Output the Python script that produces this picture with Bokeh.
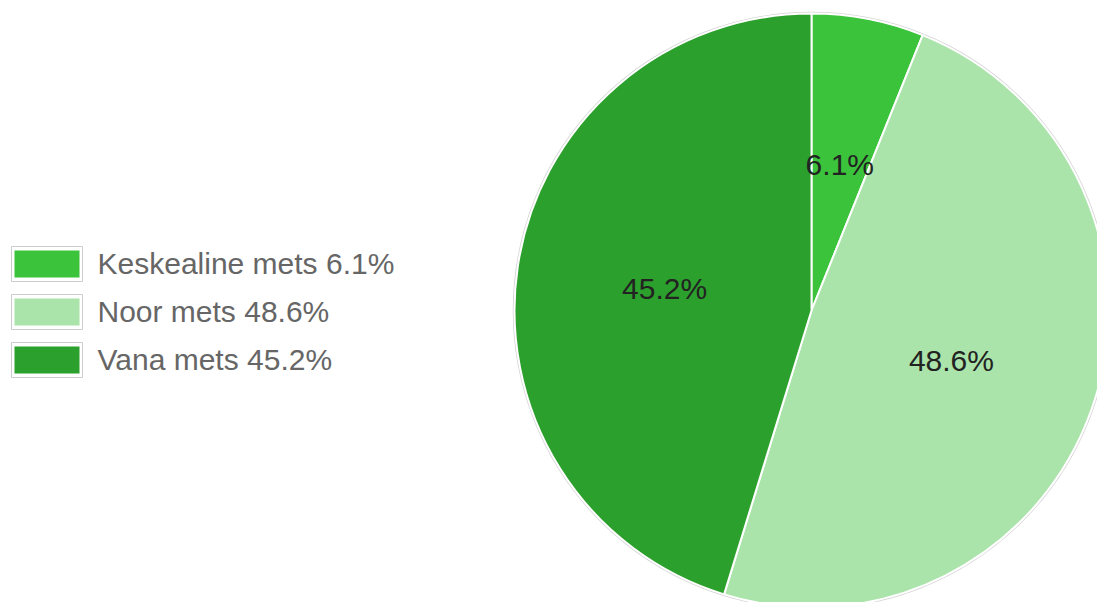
import math
from bokeh.plotting import figure
from bokeh.models import Range1d, ColumnDataSource
from bokeh.core.properties import value
from bokeh.embed import file_html
from bokeh.resources import INLINE

# ---- data ----
categories = ["Keskealine mets", "Noor mets", "Vana mets"]
percents = [6.1, 48.6, 45.2]
colors = ["#3cc33c", "#aae4aa", "#2ca02c"]

W, H = 1097, 602
p = figure(width=W, height=H, output_backend="svg", toolbar_location=None,
           x_range=Range1d(0, W), y_range=Range1d(0, H), min_border=0)
p.axis.visible = False
p.grid.visible = False
p.outline_line_color = None
p.background_fill_color = "white"
p.border_fill_color = "white"

# pie geometry (in pixel-like data units)
cx, cy, r = 811, 292, 297

total = sum(percents)
starts, ends, mids = [], [], []
cum = 0.0
for v in percents:
    frac = v / total
    a0 = math.pi / 2 - 2 * math.pi * cum
    a1 = math.pi / 2 - 2 * math.pi * (cum + frac)
    starts.append(a0)
    ends.append(a1)
    mids.append((a0 + a1) / 2)
    cum += frac

src = ColumnDataSource(dict(start=starts, end=ends, color=colors,
                            x=[cx] * 3, y=[cy] * 3))

# faint outline around pie
p.circle(x=[cx], y=[cy], radius=r + 1, fill_color=None,
         line_color="#d4d4d4", line_width=1.5)
p.wedge(x="x", y="y", radius=r, start_angle="start", end_angle="end",
        direction="clock", fill_color="color", line_color="white",
        line_width=2, source=src)

# slice labels
lx = [cx + 0.5 * r * math.cos(m) for m in mids]
ly = [cy + 0.5 * r * math.sin(m) for m in mids]
labels = [f"{v}%" for v in percents]
p.text(x=lx, y=ly, text=labels, text_align="center", text_baseline="middle",
       text_font=value("Liberation Sans"), text_font_size="30px",
       text_color="#222222")

# legend (manual)
row0, step = 338.5, 48
ry = [row0 - step * i for i in range(len(categories))]
p.rect(x=[46.5] * 3, y=ry, width=71, height=35, fill_color="white",
       line_color="#cccccc", line_width=1)
p.rect(x=[46.5] * 3, y=ry, width=65, height=27, fill_color=colors,
       line_color=None)
leg_text = [f"{c} {v}%" for c, v in zip(categories, percents)]
p.text(x=[97] * 3, y=[y + 1 for y in ry], text=leg_text, text_align="left",
       text_baseline="middle", text_font=value("Liberation Sans"),
       text_font_size="30px", text_color="#666666")

open("out.html", "w").write(file_html(p, INLINE))
